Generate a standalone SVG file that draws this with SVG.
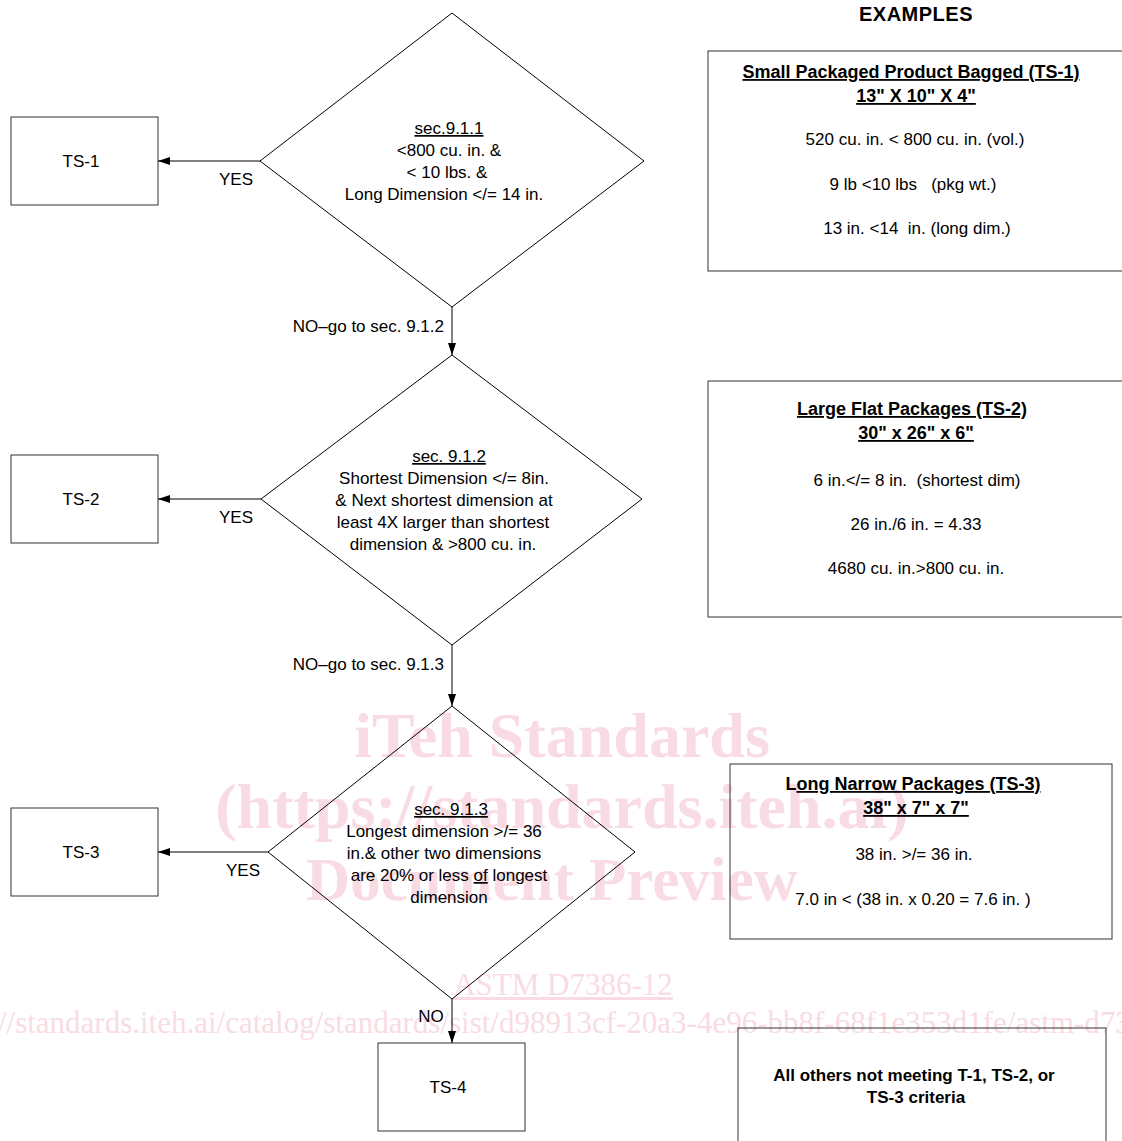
<svg xmlns="http://www.w3.org/2000/svg" width="1122" height="1141" viewBox="0 0 1122 1141">
<defs>
<marker id="arr" markerWidth="13" markerHeight="9" refX="12" refY="4" orient="auto" markerUnits="userSpaceOnUse">
<path d="M0,0 L12,4 L0,8 z" fill="#000"/>
</marker>
<style>
.box{fill:none;stroke:#333;stroke-width:1}
.dia{fill:none;stroke:#000;stroke-width:1}
.t{font-family:"Liberation Sans",Arial,sans-serif;font-size:17px;fill:#000;text-anchor:middle}
.b{font-family:"Liberation Sans",Arial,sans-serif;font-size:18px;font-weight:bold;fill:#000;text-anchor:middle}
.u{text-decoration:underline}
.wm{font-family:"Liberation Serif","Times New Roman",serif;font-weight:bold;font-size:64px;fill:#f9dce3;text-anchor:middle}
.wm2{font-family:"Liberation Serif","Times New Roman",serif;font-size:31px;fill:#f9dce3}
.c{stroke:#000;stroke-width:1;fill:none;marker-end:url(#arr)}
</style>
</defs>
<rect width="1122" height="1141" fill="#fff"/>

<g id="watermark">
<text class="wm" x="562" y="757">iTeh Standards</text>
<text class="wm" x="562" y="828">(https://standards.iteh.ai)</text>
<text class="wm" x="552" y="900" style="font-size:61px">Document Preview</text>
<text class="wm2 u" x="563" y="995" text-anchor="middle">ASTM D7386-12</text>
<text class="wm2" x="-71" y="1033">https://standards.iteh.ai/catalog/standards/sist/d98913cf-20a3-4e96-bb8f-68f1e353d1fe/astm-d7386-12</text>
</g>

<text class="b" x="916" y="21" style="font-size:20px;letter-spacing:0.5px">EXAMPLES</text>

<g id="ts1">
<rect class="box" x="11" y="117" width="147" height="88"/>
<text class="t" x="81" y="167">TS-1</text>
</g>
<g id="d1">
<polygon class="dia" points="452,13 644,161 452,307 260,161"/>
<text class="t" x="449" y="134"><tspan class="u">sec.9.1.1</tspan></text>
<text class="t" x="449" y="156">&lt;800 cu. in. &amp;</text>
<text class="t" x="447" y="178">&lt; 10 lbs. &amp;</text>
<text class="t" x="444" y="200">Long Dimension &lt;/= 14 in.</text>
</g>

<g id="ts2">
<rect class="box" x="11" y="455" width="147" height="88"/>
<text class="t" x="81" y="505">TS-2</text>
</g>
<g id="d2">
<polygon class="dia" points="452,355 642,499 452,645 261,499"/>
<text class="t" x="449" y="462"><tspan class="u">sec. 9.1.2</tspan></text>
<text class="t" x="444" y="484">Shortest Dimension &lt;/= 8in.</text>
<text class="t" x="444" y="506">&amp; Next shortest dimension at</text>
<text class="t" x="443" y="528">least 4X larger than shortest</text>
<text class="t" x="443" y="550">dimension &amp; &gt;800 cu. in.</text>
</g>

<g id="ts3">
<rect class="box" x="11" y="808" width="147" height="88"/>
<text class="t" x="81" y="858">TS-3</text>
</g>
<g id="d3">
<polygon class="dia" points="452,706 635,852 452,999 268,852"/>
<text class="t" x="451" y="815"><tspan class="u">sec. 9.1.3</tspan></text>
<text class="t" x="444" y="837">Longest dimension &gt;/= 36</text>
<text class="t" x="444" y="859">in.&amp; other two dimensions</text>
<text class="t" x="449" y="881">are 20% or less  <tspan class="u">of</tspan> longest</text>
<text class="t" x="449" y="903">dimension</text>
</g>

<g id="ts4">
<rect class="box" x="378" y="1043" width="147" height="88"/>
<text class="t" x="448" y="1093">TS-4</text>
</g>

<g id="connectors">
<line class="c" x1="260" y1="161" x2="158" y2="161"/>
<line class="c" x1="452" y1="307" x2="452" y2="355"/>
<line class="c" x1="261" y1="499" x2="158" y2="499"/>
<line class="c" x1="452" y1="645" x2="452" y2="706"/>
<line class="c" x1="268" y1="852" x2="158" y2="852"/>
<line class="c" x1="452" y1="999" x2="452" y2="1043"/>
<text class="t" x="236" y="185">YES</text>
<text class="t" x="236" y="523">YES</text>
<text class="t" x="243" y="876">YES</text>
<text class="t" x="444" y="332" style="text-anchor:end">NO–go to sec. 9.1.2</text>
<text class="t" x="444" y="670" style="text-anchor:end">NO–go to sec. 9.1.3</text>
<text class="t" x="431" y="1022">NO</text>
</g>

<g id="ex1">
<rect class="box" x="708" y="51" width="430" height="220"/>
<text class="b u" x="911" y="78">Small Packaged Product Bagged (TS-1)</text>
<text class="b u" x="916" y="102">13" X 10" X 4"</text>
<text class="t" x="915" y="145">520 cu. in. &lt; 800 cu. in. (vol.)</text>
<text class="t" x="913" y="190" style="white-space:pre">9 lb &lt;10 lbs   (pkg wt.)</text>
<text class="t" x="917" y="234" style="white-space:pre">13 in. &lt;14  in. (long dim.)</text>
</g>

<g id="ex2">
<rect class="box" x="708" y="381" width="430" height="236"/>
<text class="b u" x="912" y="415">Large Flat Packages (TS-2)</text>
<text class="b u" x="916" y="439">30" x 26" x 6"</text>
<text class="t" x="917" y="486" style="white-space:pre">6 in.&lt;/= 8 in.  (shortest dim)</text>
<text class="t" x="916" y="530">26 in./6 in. = 4.33</text>
<text class="t" x="916" y="574">4680 cu. in.&gt;800 cu. in.</text>
</g>

<g id="ex3">
<rect class="box" x="730" y="764" width="382" height="175"/>
<text class="b" x="913" y="790">L<tspan class="u">ong Narrow Packages (TS-3)</tspan></text>
<text class="b u" x="916" y="814">38" x 7" x 7"</text>
<text class="t" x="914" y="860">38 in. &gt;/= 36 in.</text>
<text class="t" x="913" y="905">7.0 in &lt; (38 in. x 0.20 = 7.6 in. )</text>
</g>

<g id="ex4">
<rect class="box" x="738" y="1028" width="368" height="130"/>
<text class="b" x="914" y="1081" style="font-size:17px">All others not meeting T-1, TS-2, or</text>
<text class="b" x="916" y="1103" style="font-size:17px">TS-3 criteria</text>
</g>
</svg>
